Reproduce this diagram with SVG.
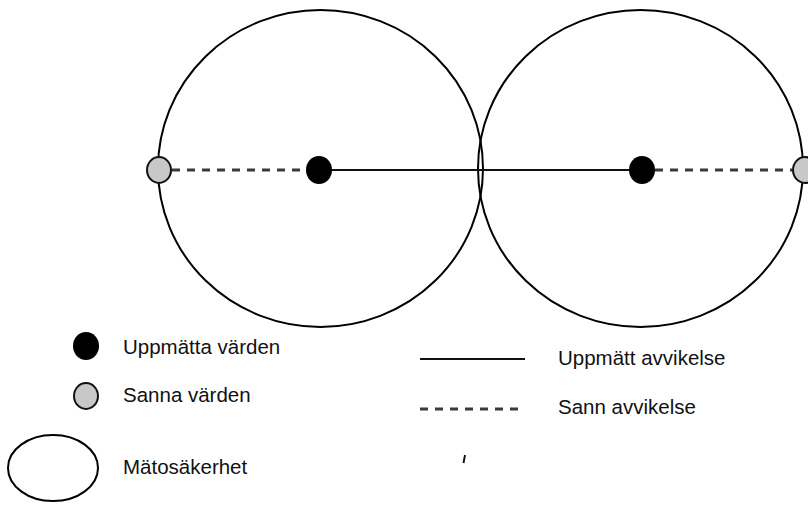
<svg xmlns="http://www.w3.org/2000/svg" width="808" height="508" viewBox="0 0 808 508">
<style>
.ring{fill:none;stroke:#000;stroke-width:2}
.meas{fill:#000}
.true{fill:#c8c8c8;stroke:#111;stroke-width:2}
.solid{stroke:#111;stroke-width:2.2;fill:none}
.dash{stroke:#3a3a3a;stroke-width:2.8;stroke-dasharray:8 7;fill:none}
.lbl{font-family:"Liberation Sans",Arial,sans-serif;font-size:20.5px;fill:#111}
</style>
<rect width="808" height="508" fill="#fff"/>
<g id="circle-left"><ellipse class="ring" cx="320.5" cy="168.5" rx="162.5" ry="158.5"/></g>
<g id="circle-right"><ellipse class="ring" cx="640.5" cy="168.5" rx="162.5" ry="158.5"/></g>
<g id="connectors">
<line class="dash" x1="172" y1="170" x2="308" y2="170"/>
<line class="solid" x1="320" y1="170" x2="642" y2="170"/>
<line class="dash" x1="655" y1="170" x2="792" y2="170"/>
</g>
<g id="true-left"><ellipse class="true" cx="159" cy="170" rx="12" ry="13"/></g>
<g id="meas-left"><ellipse class="meas" cx="319" cy="170" rx="13" ry="14"/></g>
<g id="meas-right"><ellipse class="meas" cx="642" cy="170" rx="13" ry="14"/></g>
<g id="true-right"><ellipse class="true" cx="805" cy="170" rx="12" ry="13"/></g>
<g id="legend">
<ellipse class="meas" cx="86" cy="346" rx="13" ry="14"/>
<text class="lbl" x="123" y="354">Uppmätta värden</text>
<ellipse class="true" cx="86" cy="396" rx="12" ry="13"/>
<text class="lbl" x="123" y="402">Sanna värden</text>
<ellipse class="ring" cx="53" cy="468" rx="45" ry="33"/>
<text class="lbl" x="123" y="474">Mätosäkerhet</text>
<line class="solid" x1="420" y1="359" x2="525" y2="359"/>
<text class="lbl" x="558" y="365">Uppmätt avvikelse</text>
<line class="dash" x1="420" y1="409" x2="524" y2="409"/>
<text class="lbl" x="558" y="414">Sann avvikelse</text>
<line x1="465" y1="455" x2="463.5" y2="463" stroke="#111" stroke-width="2"/>
</g>
</svg>
